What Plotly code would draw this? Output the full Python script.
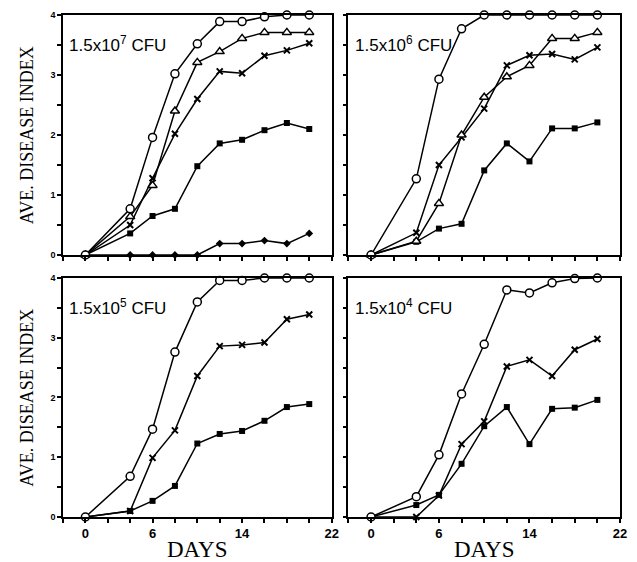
import plotly.graph_objects as go

days = [0, 4, 6, 8, 10, 12, 14, 16, 18, 20]

# Panel 1: 1.5x10^7 CFU
p1_circle = [0, 0.77, 1.96, 3.02, 3.52, 3.89, 3.89, 3.97, 4.0, 4.0]
p1_triangle = [0, 0.64, 1.16, 2.40, 3.21, 3.39, 3.61, 3.71, 3.71, 3.71]
p1_cross = [0, 0.50, 1.28, 2.02, 2.60, 3.06, 3.03, 3.32, 3.41, 3.53]
p1_square = [0, 0.36, 0.65, 0.77, 1.48, 1.86, 1.92, 2.08, 2.20, 2.10]
p1_diamond = [0, 0, 0, 0, 0, 0.19, 0.19, 0.24, 0.19, 0.36]

# Panel 2: 1.5x10^6 CFU
p2_circle = [0, 1.27, 2.93, 3.77, 4.0, 4.0, 4.0, 4.0, 4.0, 4.0]
p2_triangle = [0, 0.23, 0.86, 2.00, 2.63, 2.97, 3.16, 3.61, 3.61, 3.71]
p2_cross = [0, 0.37, 1.50, 1.96, 2.44, 3.16, 3.33, 3.35, 3.26, 3.46]
p2_square = [0, 0.22, 0.44, 0.52, 1.41, 1.86, 1.56, 2.11, 2.11, 2.21]

# Panel 3: 1.5x10^5 CFU
p3_circle = [0, 0.68, 1.47, 2.76, 3.60, 3.96, 3.96, 4.0, 4.0, 4.0]
p3_cross = [0, 0.10, 0.99, 1.45, 2.36, 2.86, 2.88, 2.92, 3.31, 3.39]
p3_square = [0, 0.10, 0.27, 0.52, 1.23, 1.39, 1.44, 1.61, 1.84, 1.89]

# Panel 4: 1.5x10^4 CFU
p4_circle = [0, 0.34, 1.04, 2.06, 2.89, 3.80, 3.75, 3.92, 3.99, 4.0]
p4_cross = [0, 0.0, 0.36, 1.22, 1.60, 2.52, 2.63, 2.36, 2.80, 2.98]
p4_square = [0, 0.20, 0.37, 0.89, 1.52, 1.84, 1.22, 1.81, 1.83, 1.96]

panel_labels = ["1.5x10<sup>7</sup> CFU", "1.5x10<sup>6</sup> CFU",
                "1.5x10<sup>5</sup> CFU", "1.5x10<sup>4</sup> CFU"]
x_tickvals = [-2, 0, 2, 4, 6, 8, 10, 12, 14, 16, 18, 20, 22]
x_ticktext = ["", "0", "", "", "6", "", "", "", "14", "", "", "", "22"]
y_tickvals = [0, 0.5, 1, 1.5, 2, 2.5, 3, 3.5, 4]
y_ticktext = ["0", "", "1", "", "2", "", "3", "", "4"]

styles = {
    "circle": dict(symbol="circle", size=8, color="white", line=dict(color="black", width=1.5)),
    "triangle": dict(symbol="triangle-up", size=8, color="white", line=dict(color="black", width=1.5)),
    "cross": dict(symbol="x-thin", size=6, color="black", line=dict(color="black", width=2)),
    "square": dict(symbol="square", size=6, color="black", line=dict(color="black", width=0)),
    "diamond": dict(symbol="diamond", size=6, color="black", line=dict(color="black", width=0)),
}

panels = [
    ("x", "y", [("diamond", p1_diamond), ("square", p1_square), ("cross", p1_cross),
                ("triangle", p1_triangle), ("circle", p1_circle)]),
    ("x2", "y2", [("square", p2_square), ("cross", p2_cross),
                  ("triangle", p2_triangle), ("circle", p2_circle)]),
    ("x3", "y3", [("square", p3_square), ("cross", p3_cross), ("circle", p3_circle)]),
    ("x4", "y4", [("square", p4_square), ("cross", p4_cross), ("circle", p4_circle)]),
]

fig = go.Figure()
for xa, ya, series in panels:
    for kind, vals in series:
        fig.add_trace(go.Scatter(
            x=days, y=vals, xaxis=xa, yaxis=ya, mode="lines+markers",
            line=dict(color="black", width=1.5), marker=styles[kind],
            showlegend=False, cliponaxis=False))

dom_left = [0, 0.4823]
dom_right = [0.5124, 1]
dom_top = [0.5219, 1]
dom_bot = [0, 0.4761]

tickfont_x = dict(family="Liberation Sans, Arial", size=13, color="black", weight="bold")
tickfont_y = dict(family="Liberation Sans, Arial", size=9, color="black", weight="bold")

def xaxis(domain, anchor, labels):
    return dict(domain=domain, anchor=anchor, range=[-2, 22], tickmode="array",
                tickvals=x_tickvals, ticktext=x_ticktext if labels else [""] * len(x_tickvals),
                ticks="outside", ticklen=4, tickwidth=1.5, tickcolor="black",
                showline=True, linecolor="black", linewidth=1.5, mirror=True,
                showgrid=False, zeroline=False, tickfont=tickfont_x)

def yaxis(domain, anchor, labels):
    return dict(domain=domain, anchor=anchor, range=[0, 4], tickmode="array",
                tickvals=y_tickvals, ticktext=y_ticktext if labels else [""] * len(y_tickvals),
                ticks="outside", ticklen=4, tickwidth=1.5, tickcolor="black",
                showline=True, linecolor="black", linewidth=1.5, mirror=True,
                showgrid=False, zeroline=False, tickfont=tickfont_y)

fig.update_layout(
    width=637, height=562,
    margin=dict(l=63, r=10, t=15, b=45),
    paper_bgcolor="white", plot_bgcolor="white",
    xaxis=xaxis(dom_left, "y", False),
    yaxis=yaxis(dom_top, "x", True),
    xaxis2=xaxis(dom_right, "y2", False),
    yaxis2=yaxis(dom_top, "x2", False),
    xaxis3=xaxis(dom_left, "y3", True),
    yaxis3=yaxis(dom_bot, "x3", True),
    xaxis4=xaxis(dom_right, "y4", True),
    yaxis4=yaxis(dom_bot, "x4", False),
)

serif = dict(family="Liberation Serif, Times New Roman", color="black")
ann = []
for i, (xr, yr) in enumerate([("x", "y"), ("x2", "y2"), ("x3", "y3"), ("x4", "y4")]):
    ann.append(dict(text=panel_labels[i], x=-1.6, y=3.52, xref=xr, yref=yr,
                    xanchor="left", yanchor="middle", showarrow=False,
                    font=dict(family="Liberation Sans, Arial", size=17, color="black")))
for yd in (dom_top, dom_bot):
    ann.append(dict(text="AVE. DISEASE INDEX", x=-0.064, y=(yd[0] + yd[1]) / 2,
                    xref="paper", yref="paper", textangle=-90, showarrow=False,
                    xanchor="center", yanchor="middle", font=dict(size=18, **serif)))
for xd in (dom_left, dom_right):
    ann.append(dict(text="DAYS", x=(xd[0] + xd[1]) / 2, y=-0.064,
                    xref="paper", yref="paper", showarrow=False, borderpad=0,
                    xanchor="center", yanchor="middle", font=dict(size=23, **serif)))
fig.update_layout(annotations=ann)

fig.write_html("out.html", config={"displayModeBar": False},
               post_script="document.body.style.margin='0px';")
